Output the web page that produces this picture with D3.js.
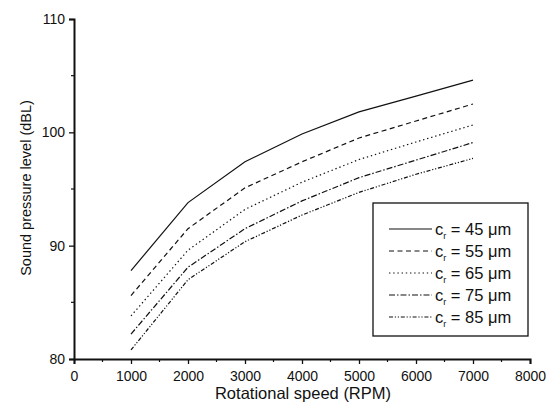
<!DOCTYPE html>
<html><head><meta charset="utf-8">
<script src="https://cdn.jsdelivr.net/npm/d3@7"></script>
<style>body{margin:0;background:#fff}svg{display:block}text{font-family:"Liberation Sans",Arial,sans-serif;fill:#111}</style>
</head><body>
<script>
const speeds = [1000, 2000, 3000, 4000, 5000, 6000, 7000];
const cr45 = [87.8, 93.8, 97.4, 99.85, 101.8, 103.2, 104.6];
const cr55 = [85.6, 91.5, 95.1, 97.4, 99.5, 101.0, 102.5];
const cr65 = [83.8, 89.6, 93.2, 95.6, 97.6, 99.15, 100.65];
const cr75 = [82.2, 88.1, 91.5, 93.95, 96.0, 97.55, 99.1];
const cr85 = [80.8, 87.0, 90.35, 92.7, 94.7, 96.3, 97.7];
const seriesLabels = ["45", "55", "65", "75", "85"];
const xTicks = [0,1000,2000,3000,4000,5000,6000,7000,8000];
const yTicks = [80,90,100,110];
const xTitle = "Rotational speed (RPM)";
const yTitle = "Sound pressure level (dBL)";

const series = [cr45, cr55, cr65, cr75, cr85];
const dashes = [null, "5,3.5", "1.4,2.8", "6,2,1.5,2", "4,1.8,1.2,1.8,1.2,1.8"];

const W = 549, H = 415;
const m = {l:74, r:19, t:19, b:56};
const svg = d3.select("body").append("svg").attr("width", W).attr("height", H);
const x = d3.scaleLinear().domain([0,8000]).range([m.l, W-m.r]);
const y = d3.scaleLinear().domain([80,110]).range([H-m.b, m.t]);

// minor ticks
const gx = svg.append("g");
gx.selectAll("line.minor").data(d3.range(500,8000,1000)).join("line")
  .attr("x1", d=>x(d)).attr("x2", d=>x(d)).attr("y1", y(80)).attr("y2", y(80)+3)
  .attr("stroke","#111").attr("stroke-width",1.2);
const gy = svg.append("g");
gy.selectAll("line.minor").data([85,95,105]).join("line")
  .attr("x1", x(0)).attr("x2", x(0)-3).attr("y1", d=>y(d)).attr("y2", d=>y(d))
  .attr("stroke","#111").attr("stroke-width",1.2);

const xAxis = svg.append("g").attr("transform",`translate(0,${y(80)})`)
  .call(d3.axisBottom(x).tickValues(xTicks).tickSize(5).tickPadding(7).tickFormat(d3.format("d")));
const yAxis = svg.append("g").attr("transform",`translate(${x(0)},0)`)
  .call(d3.axisLeft(y).tickValues(yTicks).tickSize(5).tickPadding(4).tickFormat(d3.format("d")));
[xAxis,yAxis].forEach(a=>{
  a.select(".domain").attr("stroke","#111").attr("stroke-width",2);
  a.selectAll(".tick line").attr("stroke","#111").attr("stroke-width",1.3);
  a.selectAll(".tick text").style("font-size","14px").style("fill","#111");
});

const line = d3.line().x((d,i)=>x(speeds[i])).y(d=>y(d));
series.forEach((s,k)=>{
  svg.append("path").datum(s).attr("d", line).attr("fill","none")
    .attr("stroke","#111").attr("stroke-width",1.2)
    .attr("stroke-dasharray", dashes[k]);
});

svg.append("text").attr("x", 303).attr("y", 399).attr("text-anchor","middle")
  .style("font-size","16.5px").text(xTitle);
svg.append("text").attr("transform",`translate(31,188) rotate(-90)`)
  .attr("text-anchor","middle").style("font-size","14.5px").text(yTitle);

// legend
const lg = svg.append("g");
lg.append("rect").attr("x",373).attr("y",203).attr("width",155).attr("height",133)
  .attr("fill","#fff").attr("stroke","#111").attr("stroke-width",1.3);
seriesLabels.forEach((lab,k)=>{
  const yy = 229 + k*22;
  lg.append("line").attr("x1",389).attr("x2",432).attr("y1",yy).attr("y2",yy)
    .attr("stroke","#111").attr("stroke-width",1.2).attr("stroke-dasharray",dashes[k]);
  const t = lg.append("text").attr("x",435).attr("y",yy+6).style("font-size","16.5px");
  t.append("tspan").text("c");
  t.append("tspan").attr("dy",4).style("font-size","9px").text("r");
  t.append("tspan").attr("dy",-4).text(" = " + lab + " \u03bcm");
});
</script>
</body></html>
